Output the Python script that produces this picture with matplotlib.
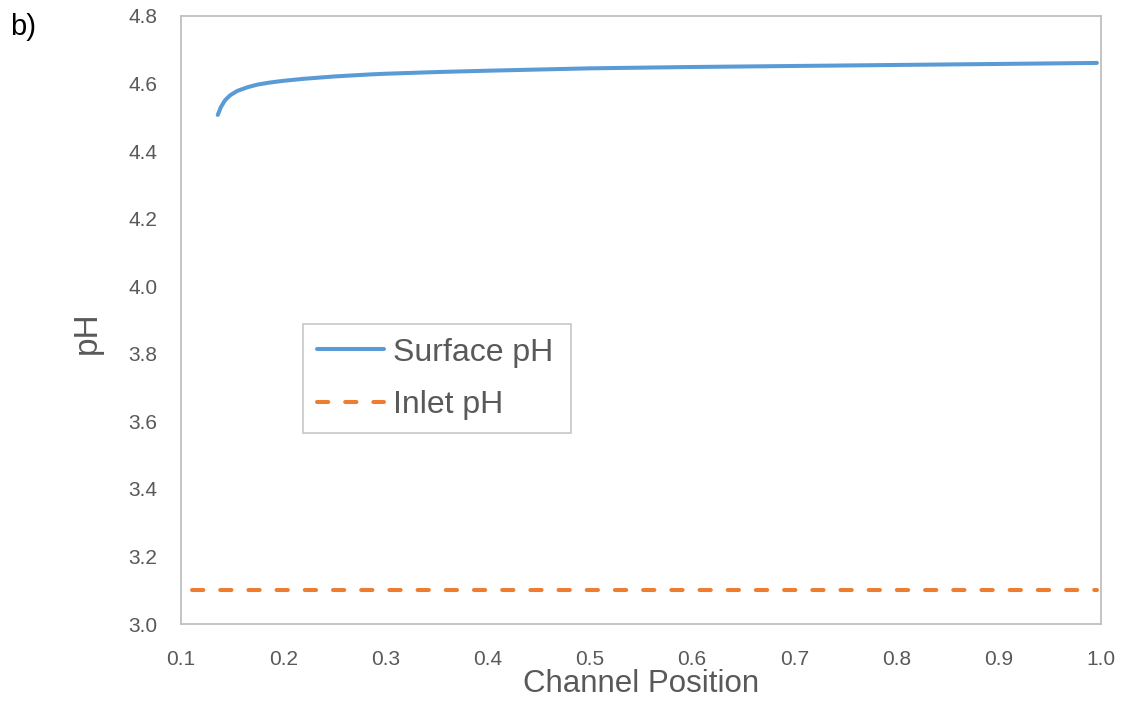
import matplotlib
matplotlib.use("Agg")
import matplotlib.pyplot as plt

plt.rcParams['font.family'] = ['Liberation Sans', 'DejaVu Sans']

# Surface pH along channel
surface_x = [0.136, 0.139, 0.143, 0.148, 0.155, 0.165, 0.175, 0.187, 0.2, 0.22, 0.25,
             0.285, 0.3, 0.35, 0.4, 0.5, 0.6, 0.7, 0.8, 0.9, 0.996]
surface_ph = [4.507, 4.53, 4.55, 4.565, 4.578, 4.589, 4.597, 4.603, 4.608, 4.614, 4.621,
              4.627, 4.629, 4.634, 4.638, 4.645, 4.649, 4.652, 4.655, 4.658, 4.661]

inlet_x = [0.111, 0.996]
inlet_ph = [3.1, 3.1]

x_ticks = [0.1, 0.2, 0.3, 0.4, 0.5, 0.6, 0.7, 0.8, 0.9, 1.0]
y_ticks = [3.0, 3.2, 3.4, 3.6, 3.8, 4.0, 4.2, 4.4, 4.6, 4.8]

fig = plt.figure(figsize=(11.24, 7.04), dpi=100)
ax = fig.add_axes([0.161, 0.1136, 0.8185, 0.8637])

ax.plot(surface_x, surface_ph, color='#5b9bd5', lw=2.9, solid_capstyle='round',
        label='Surface pH')
ax.plot(inlet_x, inlet_ph, color='#ed7d31', lw=2.9, dashes=(2.8, 4.2),
        dash_capstyle='round', label='Inlet pH')

ax.set_xlim(0.1, 1.0)
ax.set_ylim(3.0, 4.8)
ax.set_xticks(x_ticks)
ax.set_xticklabels([f'{v:.1f}' for v in x_ticks])
ax.set_yticks(y_ticks)
ax.set_yticklabels([f'{v:.1f}' for v in y_ticks])
ax.tick_params(length=0, labelsize=15, colors='#595959')
ax.tick_params(axis='x', pad=19)
ax.tick_params(axis='y', pad=17)

for s in ax.spines.values():
    s.set_color('#bfbfbf')
    s.set_linewidth(1.3)

ax.set_xlabel('Channel Position', fontsize=22.5, color='#595959', labelpad=0)
ax.set_ylabel('pH', fontsize=24, color='#595959', labelpad=18.5, y=0.479)

leg = ax.legend(loc='upper left', bbox_to_anchor=(0.133, 0.321, 0.291, 0.172),
                mode='expand', fontsize=23, frameon=True, fancybox=False,
                handlelength=2.1, handletextpad=0.28, borderpad=0.42,
                labelspacing=0.69, borderaxespad=0)
leg.get_frame().set_edgecolor('#bfbfbf')
leg.get_frame().set_linewidth(1.3)
for t in leg.get_texts():
    t.set_color('#595959')

fig.text(0.009, 0.981, 'b)', fontsize=21, color='black', ha='left', va='top')

fig.savefig('out.png', dpi=100)
